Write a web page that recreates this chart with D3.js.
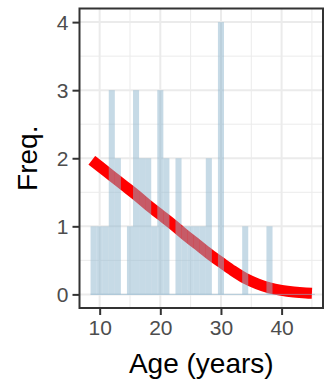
<!DOCTYPE html>
<html>
<head>
<meta charset="utf-8">
<script src="https://cdn.jsdelivr.net/npm/d3@7"></script>
<style>
  html, body { margin: 0; padding: 0; background: #fff; }
  svg { display: block; font-family: "Liberation Sans", Arial, sans-serif; }
</style>
</head>
<body>
<div id="chart"></div>
<script>
// ---- Data
const ages = [9, 10, 11, 12, 13, 14, 15, 16, 17, 18, 19, 20, 21, 22, 23, 24, 25, 26, 27, 28, 29, 30, 31, 32, 33, 34, 35, 36, 37, 38, 39, 40, 41, 42, 43, 44, 45];
const counts = [1, 1, 1, 3, 2, 0, 1, 3, 2, 2, 1, 3, 2, 0, 2, 1, 1, 1, 1, 2, 0, 4, 0, 0, 0, 1, 0, 0, 0, 1, 0, 0, 0, 0, 0, 0, 0];
const curveX = [8.7, 10, 12, 14, 16, 18, 20, 22, 24, 26, 28, 30, 32, 34, 36, 38, 40, 42, 44, 45];
const curveY = [1.97, 1.88, 1.74, 1.60, 1.46, 1.31, 1.17, 1.03, 0.88, 0.74, 0.60, 0.47, 0.345, 0.235, 0.155, 0.095, 0.058, 0.034, 0.02, 0.016];
const xTicks = [10, 20, 30, 40];
const xMinor = [15, 25, 35, 45];
const yTicks = [0, 1, 2, 3, 4];
const yMinor = [0.5, 1.5, 2.5, 3.5];

const W = 330, H = 384;
const panel = { left: 79.5, right: 323, top: 8.5, bottom: 308 };

const svg = d3.select('#chart')
    .append('svg')
    .attr('width', W)
    .attr('height', H);

// ---- Scales
const x = d3.scaleLinear().domain([6.675, 46.825]).range([panel.left, panel.right]);
const y = d3.scaleLinear().domain([-0.2, 4.2]).range([panel.bottom, panel.top]);

svg.append('clipPath').attr('id', 'clip')
    .append('rect')
    .attr('x', panel.left).attr('y', panel.top)
    .attr('width', panel.right - panel.left)
    .attr('height', panel.bottom - panel.top);

// ---- Panel background and grid
svg.append('rect')
    .attr('x', panel.left).attr('y', panel.top)
    .attr('width', panel.right - panel.left)
    .attr('height', panel.bottom - panel.top)
    .style('fill', '#fff');

const grid = svg.append('g').attr('clip-path', 'url(#clip)');

grid.selectAll('.minorX').data(xMinor).join('line')
    .attr('x1', d => x(d)).attr('x2', d => x(d))
    .attr('y1', panel.top).attr('y2', panel.bottom)
    .style('stroke', '#ebebeb').style('stroke-width', 1);

grid.selectAll('.minorY').data(yMinor).join('line')
    .attr('y1', d => y(d)).attr('y2', d => y(d))
    .attr('x1', panel.left).attr('x2', panel.right)
    .style('stroke', '#ebebeb').style('stroke-width', 1);

grid.selectAll('.majorX').data(xTicks).join('line')
    .attr('x1', d => x(d)).attr('x2', d => x(d))
    .attr('y1', panel.top).attr('y2', panel.bottom)
    .style('stroke', '#ebebeb').style('stroke-width', 2);

grid.selectAll('.majorY').data(yTicks).join('line')
    .attr('y1', d => y(d)).attr('y2', d => y(d))
    .attr('x1', panel.left).attr('x2', panel.right)
    .style('stroke', '#ebebeb').style('stroke-width', 2);

// ---- Red curve (drawn under the bars)
const line = d3.line()
    .x((d, i) => x(curveX[i]))
    .y(d => y(d))
    .curve(d3.curveMonotoneX);

grid.append('path')
    .datum(curveY)
    .attr('d', line)
    .style('fill', 'none')
    .style('stroke', '#ff0000')
    .style('stroke-width', 11);

// ---- Histogram bars (binwidth 1, translucent)
const marks = svg.append('g').attr('clip-path', 'url(#clip)');

marks.selectAll('.bar').data(ages).join('rect')
    .attr('class', 'bar')
    .attr('x', d => x(d - 0.5))
    .attr('width', d => x(d + 0.5) - x(d - 0.5))
    .attr('y', (d, i) => y(counts[i]))
    .attr('height', (d, i) => y(0) - y(counts[i]))
    .style('fill', '#8db6cd')
    .style('fill-opacity', 0.5);

// zero-height bins leave a hairline along the baseline
marks.append('line')
    .attr('x1', x(ages[0] - 0.5)).attr('x2', x(ages[ages.length - 1] + 0.5))
    .attr('y1', y(0)).attr('y2', y(0))
    .style('stroke', '#8db6cd')
    .style('stroke-opacity', 0.6)
    .style('stroke-width', 1);

// ---- Panel border
svg.append('rect')
    .attr('x', panel.left).attr('y', panel.top)
    .attr('width', panel.right - panel.left)
    .attr('height', panel.bottom - panel.top)
    .style('fill', 'none')
    .style('stroke', '#333333')
    .style('stroke-width', 2);

// ---- Axes
const xAxis = svg.append('g')
    .attr('transform', `translate(0, ${panel.bottom})`)
    .call(d3.axisBottom(x).tickValues(xTicks).tickSize(7).tickPadding(5).tickFormat(d3.format('d')));

const yAxis = svg.append('g')
    .attr('transform', `translate(${panel.left}, 0)`)
    .call(d3.axisLeft(y).tickValues(yTicks).tickSize(7).tickPadding(4).tickFormat(d3.format('d')));

[xAxis, yAxis].forEach(ax => {
    ax.select('.domain').remove();
    ax.selectAll('.tick line').style('stroke', '#333333').style('stroke-width', 2);
    ax.selectAll('.tick text')
        .style('font-family', '"Liberation Sans", Arial, sans-serif')
        .style('font-size', '21px')
        .style('fill', '#4d4d4d');
});

xAxis.selectAll('.tick text').attr('dy', '0.71em');
yAxis.selectAll('.tick text').attr('dy', '0.36em');

// ---- Axis titles
svg.append('text')
    .attr('x', (panel.left + panel.right) / 2)
    .attr('y', 373)
    .attr('text-anchor', 'middle')
    .style('font-size', '28px')
    .style('fill', '#000')
    .text('Age (years)');

svg.append('text')
    .attr('transform', `translate(37, ${(panel.top + panel.bottom) / 2}) rotate(-90)`)
    .attr('text-anchor', 'middle')
    .style('font-size', '28px')
    .style('fill', '#000')
    .text('Freq.');
</script>
</body>
</html>
